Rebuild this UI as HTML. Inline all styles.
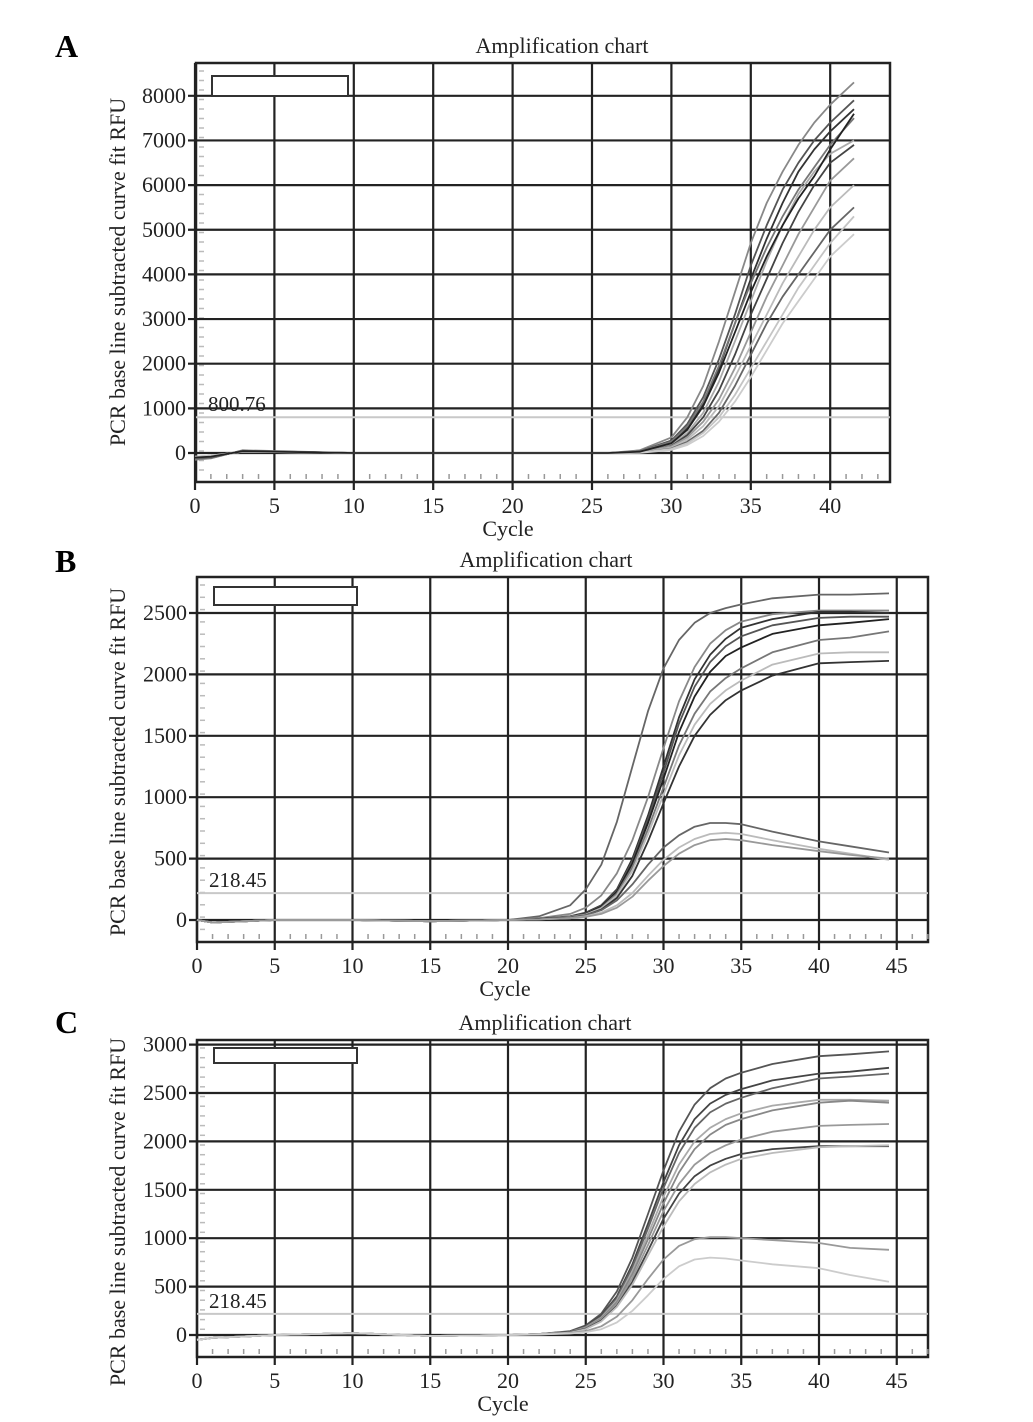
<!DOCTYPE html>
<html><head><meta charset="utf-8"><style>
body{margin:0;background:#fff;}
svg{display:block;font-family:"Liberation Serif",serif;}
</style></head><body>
<svg id="fig" width="1033" height="1422" viewBox="0 0 1033 1422" xmlns="http://www.w3.org/2000/svg">
<text x="55" y="57" font-size="32" font-weight="bold">A</text>
<text x="55" y="572" font-size="32" font-weight="bold">B</text>
<text x="55" y="1033" font-size="32" font-weight="bold">C</text>
</svg>
<script>
// ---- Panel A data ----
const cyclesA = [0,1,3,10,20,26,28,30,31,32,33,34,35,36,37,38,39,40,41.5];
const curvesA = [
 [-150,-120,60,0,0,0,60,350,800,1500,2500,3600,4700,5600,6300,6900,7400,7800,8300],
 [-100,-90,40,0,0,0,40,280,650,1250,2100,3100,4200,5100,5900,6500,7000,7400,7900],
 [-120,-100,50,0,0,0,30,230,550,1100,1900,2900,3900,4800,5600,6300,6800,7200,7700],
 [-80,-60,30,0,0,0,40,250,600,1150,1950,2900,3800,4600,5300,5900,6400,6900,7500],
 [-100,-80,40,0,0,0,20,180,450,900,1600,2500,3400,4300,5100,5800,6300,6700,7000],
 [-90,-70,30,0,0,0,20,160,400,800,1400,2200,3100,3900,4700,5400,6000,6500,6900],
 [-110,-90,40,0,0,0,20,150,350,700,1200,1900,2700,3500,4200,4900,5500,6100,6600],
 [-100,-80,40,0,0,0,10,120,300,600,1050,1700,2400,3100,3800,4400,5000,5500,6000],
 [-120,-100,50,0,0,0,10,100,250,500,900,1500,2200,2900,3500,4000,4500,5000,5500],
 [-90,-70,30,0,0,0,10,90,220,450,800,1300,1900,2500,3100,3700,4200,4700,5300],
 [-80,-60,30,0,0,0,5,70,180,380,700,1150,1700,2300,2900,3400,3900,4400,4900],
 [-100,-80,40,0,0,0,30,220,520,1050,1800,2700,3600,4400,5100,5700,6200,6800,7600]
];
const colorsA = ['#888','#555','#333','#777','#aaa','#444','#999','#bbb','#666','#c4c4c4','#ccc','#222'];
const yTicksA = [0,1000,2000,3000,4000,5000,6000,7000,8000];
const xTicksA = [0,5,10,15,20,25,30,35,40];

// ---- Panel B data ----
const cyclesB = [0,1,5,10,15,20,22,24,25,26,27,28,29,30,31,32,33,34,35,37,40,42,44.5];
const curvesB = [
 [0,-20,0,0,-10,0,30,120,250,450,800,1250,1700,2050,2280,2420,2500,2540,2570,2620,2650,2650,2660],
 [0,-20,0,0,-10,0,15,50,100,200,380,650,1000,1400,1780,2060,2250,2360,2430,2490,2520,2520,2520],
 [0,-20,0,0,-10,0,10,30,60,120,250,500,850,1250,1650,1960,2160,2290,2380,2450,2510,2510,2500],
 [0,-20,0,0,-10,0,10,28,55,115,240,480,820,1200,1600,1900,2100,2230,2310,2400,2460,2470,2470],
 [0,-20,0,0,-10,0,10,25,50,110,230,460,790,1150,1530,1820,2020,2150,2220,2330,2400,2420,2450],
 [0,-20,0,0,-10,0,10,25,45,100,215,430,740,1080,1420,1680,1860,1970,2050,2180,2280,2300,2350],
 [0,-20,0,0,-10,0,10,25,45,95,200,400,700,1020,1340,1590,1760,1870,1950,2080,2170,2180,2180],
 [0,-20,0,0,-10,0,10,22,40,85,180,360,640,950,1250,1500,1670,1790,1870,1990,2090,2100,2110],
 [0,-20,0,0,-10,0,5,20,40,80,160,290,450,590,690,760,790,790,780,720,640,600,550],
 [0,-20,0,0,-10,0,5,15,30,60,120,220,360,490,590,660,700,710,700,650,580,540,490],
 [0,-20,0,0,-10,0,5,15,25,50,100,190,320,440,540,610,650,660,650,610,560,530,500]
];
const colorsB = ['#666','#888','#333','#555','#222','#777','#bbb','#333','#666','#bbb','#999'];
const yTicksB = [0,500,1000,1500,2000,2500];
const xTicksB = [0,5,10,15,20,25,30,35,40,45];

// ---- Panel C data ----
const cyclesC = [0,1,5,10,15,20,22,24,25,26,27,28,29,30,31,32,33,34,35,37,40,42,44.5];
const curvesC = [
 [-50,-30,0,20,-10,0,10,40,100,220,450,800,1250,1700,2100,2380,2550,2650,2710,2800,2880,2900,2930],
 [-50,-30,0,20,-10,0,10,35,90,200,400,730,1150,1580,1960,2230,2390,2480,2540,2630,2700,2720,2760],
 [-50,-30,0,20,-10,0,10,35,85,190,380,700,1100,1520,1880,2140,2300,2390,2450,2550,2650,2670,2700],
 [-50,-30,0,20,-10,0,10,30,80,180,360,660,1040,1430,1760,2000,2140,2230,2290,2370,2430,2430,2420],
 [-50,-30,0,20,-10,0,10,30,75,170,340,630,990,1360,1680,1920,2070,2170,2230,2320,2400,2420,2400],
 [-50,-30,0,20,-10,0,10,30,70,160,320,590,930,1280,1560,1760,1880,1960,2020,2100,2160,2170,2180],
 [-50,-30,0,20,-10,0,10,30,65,150,300,550,870,1200,1460,1640,1750,1820,1870,1920,1950,1950,1950],
 [-50,-30,0,20,-10,0,10,25,60,140,290,520,820,1120,1380,1560,1680,1760,1820,1880,1940,1950,1960],
 [-50,-30,0,20,-10,0,5,20,40,90,190,360,580,780,920,990,1010,1010,1000,980,950,900,880],
 [-50,-30,0,20,-10,0,5,15,30,60,130,250,410,580,710,780,800,790,770,730,690,620,550]
];
const colorsC = ['#555','#444','#666','#aaa','#888','#999','#444','#bbb','#999','#ccc'];
const yTicksC = [0,500,1000,1500,2000,2500,3000];
const xTicksC = [0,5,10,15,20,25,30,35,40,45];

const NS='http://www.w3.org/2000/svg';
const svg=document.getElementById('fig');
function mk(tag,attrs,parent){const e=document.createElementNS(NS,tag);for(const k in attrs)e.setAttribute(k,attrs[k]);(parent||svg).appendChild(e);return e;}

function panel(cfg){
  const g=mk('g',{});
  
  
  const X=c=>cfg.x0+c*cfg.xs;
  const Y=v=>cfg.y0-v*cfg.ys;
  const fr=mk('rect',{x:cfg.L,y:cfg.T,width:cfg.R-cfg.L,height:cfg.B-cfg.T,fill:'#fff',stroke:'#222','stroke-width':2.5},g);
  
  
  for(let c=1;c<(cfg.R-cfg.x0)/cfg.xs;c++){ if(c%5===0) continue;
    const t=mk('line',{x1:X(c),x2:X(c),y1:cfg.B-8,y2:cfg.B-3,stroke:'#999','stroke-width':1.5},g);
    
    
  }
  for(let y=cfg.T+8;y<cfg.B-10;y+=cfg.minorY){
    const t=mk('line',{x1:cfg.L+3,x2:cfg.L+8,y1:y,y2:y,stroke:'#bbb','stroke-width':1.5},g);
    
    
  }
  cfg.xt.forEach(c=>{
    const l=mk('line',{x1:X(c),x2:X(c),y1:cfg.T,y2:cfg.B+8,stroke:'#222','stroke-width':2.2},g);
    
    
    const t=mk('text',{x:X(c),y:cfg.B+31,'font-size':22,'text-anchor':'middle',fill:'#222'},g);
    t.textContent=c;
    
    
  });
  cfg.yt.forEach(v=>{
    const l=mk('line',{x1:cfg.L-8,x2:cfg.R,y1:Y(v),y2:Y(v),stroke:'#222','stroke-width':2.2},g);
    
    
    const t=mk('text',{x:cfg.L-10,y:Y(v)+7,'font-size':22,'text-anchor':'end',fill:'#222'},g);
    t.textContent=v;
    
    
  });
  const th=mk('line',{x1:cfg.L,x2:cfg.R,y1:Y(cfg.thr),y2:Y(cfg.thr),stroke:'#c8c8c8','stroke-width':2},g);
  
  
  const tt=mk('text',{x:cfg.L+12,y:Y(cfg.thr)-6,'font-size':21,fill:'#222'},g);
  tt.textContent=cfg.thrLabel;
  
  
  cfg.curves.forEach((vals,i)=>{
    let d='';
    vals.forEach((v,j)=>{d+=(j?'L':'M')+X(cfg.cycles[j]).toFixed(1)+','+Y(v).toFixed(1);});
    const p=mk('path',{d:d,fill:'none',stroke:cfg.colors[i%cfg.colors.length],'stroke-width':1.8,'stroke-linejoin':'round'},g);
    
    
  });
  const lg=mk('rect',{x:cfg.leg[0],y:cfg.leg[1],width:cfg.leg[2],height:cfg.leg[3],fill:'#fff',stroke:'#333','stroke-width':2},g);
  
  
  const ti=mk('text',{x:cfg.titleX,y:cfg.T-10,'font-size':22,'text-anchor':'middle',fill:'#222'},g);
  ti.textContent='Amplification chart';
  
  
  const xl=mk('text',{x:cfg.xlabX,y:cfg.B+54,'font-size':22,'text-anchor':'middle',fill:'#222'},g);
  xl.textContent='Cycle';
  
  
  const yl=mk('text',{x:0,y:0,'font-size':22,'text-anchor':'middle',fill:'#222',transform:'translate(125,'+cfg.ylabY+') rotate(-90)'},g);
  yl.textContent='PCR base line subtracted curve fit RFU';
  
  
}

panel({name:'panel-a',L:196,R:890,T:63,B:482,x0:195,xs:15.88,y0:453,ys:0.04465,xt:xTicksA,yt:yTicksA,
  cycles:cyclesA,curves:curvesA,colors:colorsA,thr:800.76,thrLabel:'800.76',leg:[212,76,136,20],
  titleX:562,xlabX:508,ylabY:272,minorY:9.5});
panel({name:'panel-b',L:197,R:928,T:577,B:942,x0:197,xs:15.55,y0:920,ys:0.1228,xt:xTicksB,yt:yTicksB,
  cycles:cyclesB,curves:curvesB,colors:colorsB,thr:218.45,thrLabel:'218.45',leg:[214,587,143,18],
  titleX:546,xlabX:505,ylabY:762,minorY:12.3});
panel({name:'panel-c',L:197,R:928,T:1040,B:1357,x0:197,xs:15.55,y0:1335,ys:0.0968,xt:xTicksC,yt:yTicksC,
  cycles:cyclesC,curves:curvesC,colors:colorsC,thr:218.45,thrLabel:'218.45',leg:[214,1048,143,15],
  titleX:545,xlabX:503,ylabY:1212,minorY:9.7});
</script>
</body></html>
